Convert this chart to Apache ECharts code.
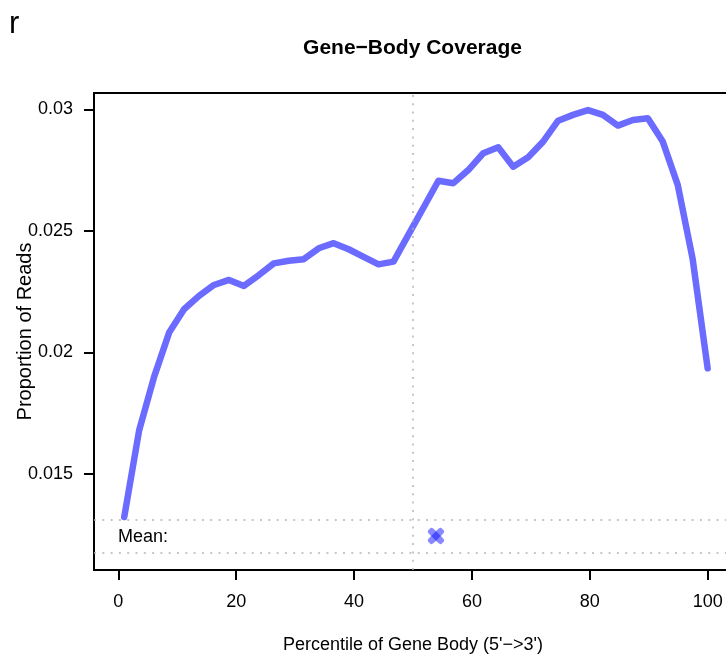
<!DOCTYPE html>
<html>
<head>
<meta charset="utf-8">
<script src="https://cdn.jsdelivr.net/npm/echarts@6/dist/echarts.min.js"></script>
<style>
  html, body { margin: 0; padding: 0; background: #fff; }
  #chart { width: 726px; height: 656px; }
</style>
</head>
<body>
<div id="chart"></div>
<script>
// Gene-body percentile positions (5' -> 3')
const percentile = [
  1.00, 3.54, 6.08, 8.62, 11.15, 13.69, 16.23, 18.77, 21.31, 23.85,
  26.38, 28.92, 31.46, 34.00, 36.54, 39.08, 41.62, 44.15, 46.69, 49.23,
  51.77, 54.31, 56.85, 59.38, 61.92, 64.46, 67.00, 69.54, 72.08, 74.62,
  77.15, 79.69, 82.23, 84.77, 87.31, 89.85, 92.38, 94.92, 97.46, 100.00
];

// Proportion of reads covering each percentile
const coverage = [
  0.01322, 0.01680, 0.01900, 0.02081, 0.02177, 0.02232, 0.02277, 0.02298, 0.02273, 0.02318,
  0.02366, 0.02377, 0.02383, 0.02428, 0.02449, 0.02424, 0.02393, 0.02362, 0.02373, 0.02484,
  0.02595, 0.02706, 0.02696, 0.02750, 0.02819, 0.02844, 0.02764, 0.02803, 0.02867, 0.02953,
  0.02977, 0.02997, 0.02977, 0.02933, 0.02956, 0.02963, 0.02867, 0.02689, 0.02383, 0.01934
];

// Axis ranges and ticks
const xRange = [-4.13, 104.13];
const yRange = [0.011041, 0.030671];
const xTicks = [0, 20, 40, 60, 80, 100];
const yTicks = [0.015, 0.02, 0.025, 0.03];

// Mean coverage position, shown in the "Mean:" strip at the bottom
const meanPosition = 53.9;
const meanRowLevel = 0.01244;
const meanRowBounds = [0.01310, 0.01177];
const midline = 50;

const FONT = "'Liberation Sans', Arial, Helvetica, sans-serif";
const lineColor = '#6b6bff';
const markColor = 'rgba(0, 0, 255, 0.58)';
const dotted = { color: '#b4b4b4', width: 1.5, type: [2, 6.3] };

const chart = echarts.init(document.getElementById('chart'), null, { renderer: 'canvas' });

const option = {
  animation: false,
  backgroundColor: '#ffffff',
  grid: {
    left: 94, top: 93, width: 638, height: 477,
    outerBoundsMode: 'none', containLabel: false,
    show: true, borderColor: '#000', borderWidth: 2, backgroundColor: 'transparent'
  },
  xAxis: {
    type: 'value',
    min: xRange[0], max: xRange[1],
    splitLine: { show: false },
    axisLine: { show: false, onZero: false },
    axisTick: { show: true, inside: false, length: 10, customValues: xTicks,
      lineStyle: { color: '#000', width: 2 } },
    axisLabel: { show: true, customValues: xTicks, margin: 23, color: '#000',
      fontFamily: FONT, fontSize: 18 },
    name: "Percentile of Gene Body (5'\u2212>3')",
    nameLocation: 'middle', nameGap: 66, nameMoveOverlap: false,
    nameTextStyle: { color: '#000', fontFamily: FONT, fontSize: 18 }
  },
  yAxis: {
    type: 'value',
    min: yRange[0], max: yRange[1],
    splitLine: { show: false },
    axisLine: { show: false, onZero: false },
    axisTick: { show: true, inside: false, length: 10, customValues: yTicks,
      lineStyle: { color: '#000', width: 2 } },
    axisLabel: { show: true, customValues: yTicks, margin: 21, color: '#000',
      fontFamily: FONT, fontSize: 18 },
    name: 'Proportion of Reads',
    nameLocation: 'middle', nameGap: 59, nameRotate: 90, nameMoveOverlap: false,
    nameTextStyle: { color: '#000', fontFamily: FONT, fontSize: 20 }
  },
  graphic: [
    { type: 'text', x: 9, y: 24, style: { text: 'r', fill: '#000',
      font: '31px ' + FONT, textVerticalAlign: 'middle' } },
    { type: 'text', x: 412.5, y: 48, style: { text: 'Gene\u2212Body Coverage', fill: '#000',
      font: 'bold 21px ' + FONT, textAlign: 'center', textVerticalAlign: 'middle' } },
    { type: 'text', x: 118, y: 537, style: { text: 'Mean:', fill: '#000',
      font: '18px ' + FONT, textVerticalAlign: 'middle' } }
  ],
  series: [
    {
      type: 'line',
      data: percentile.map((p, i) => [p, coverage[i]]),
      showSymbol: false,
      symbol: 'none',
      lineStyle: { color: lineColor, width: 6.5, cap: 'round', join: 'round' },
      z: 3,
      markLine: {
        silent: true, symbol: 'none', label: { show: false },
        lineStyle: dotted,
        data: [
          [{ coord: [midline, yRange[0]] }, { coord: [midline, yRange[1]] }],
          [{ coord: [xRange[0], meanRowBounds[0]] }, { coord: [xRange[1], meanRowBounds[0]] }],
          [{ coord: [xRange[0], meanRowBounds[1]] }, { coord: [xRange[1], meanRowBounds[1]] }]
        ]
      }
    },
    {
      type: 'scatter',
      data: [[meanPosition, meanRowLevel]],
      symbol: 'roundRect', symbolSize: [19, 7], symbolRotate: 45,
      itemStyle: { color: markColor }, z: 4
    },
    {
      type: 'scatter',
      data: [[meanPosition, meanRowLevel]],
      symbol: 'roundRect', symbolSize: [19, 7], symbolRotate: -45,
      itemStyle: { color: markColor }, z: 4
    }
  ]
};

chart.setOption(option);
</script>
</body>
</html>
